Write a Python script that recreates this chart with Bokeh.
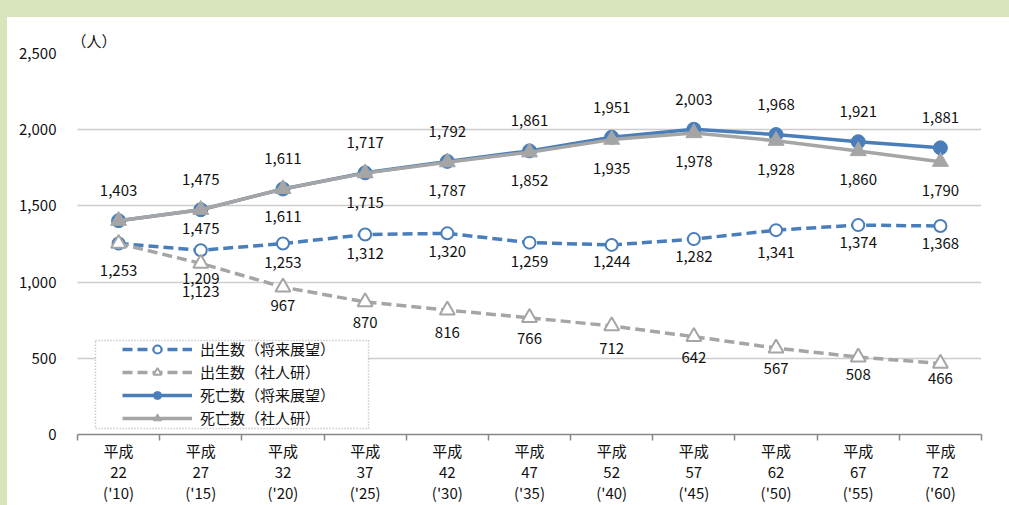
from bokeh.plotting import figure
from bokeh.models import (Range1d, LinearAxis, FixedTicker, NumeralTickFormatter, Legend,
                          LegendItem, Title, BoxAnnotation, ColumnDataSource)
from bokeh.core.properties import value
from bokeh.embed import file_html
from bokeh.resources import INLINE

# ---------------- data ----------------
era = "平成"
heisei_years = [22, 27, 32, 37, 42, 47, 52, 57, 62, 67, 72]
western_years = ["'10", "'15", "'20", "'25", "'30", "'35", "'40", "'45", "'50", "'55", "'60"]
births_future = [1253, 1209, 1253, 1312, 1320, 1259, 1244, 1282, 1341, 1374, 1368]
births_ipss = [1253, 1123, 967, 870, 816, 766, 712, 642, 567, 508, 466]
deaths_future = [1403, 1475, 1611, 1717, 1792, 1861, 1951, 2003, 1968, 1921, 1881]
deaths_ipss = [1403, 1475, 1611, 1715, 1787, 1852, 1935, 1978, 1928, 1860, 1790]
y_ticks = [0, 500, 1000, 1500, 2000, 2500]
series_names = ["出生数（将来展望）", "出生数（社人研）", "死亡数（将来展望）", "死亡数（社人研）"]
unit_label = "（人）"

# ---------------- layout / style ----------------
FONT_NAME = "Noto Sans CJK JP"
FONT = value(FONT_NAME)
BLUE = "#4a7ebb"
GRAY = "#a5a5a5"
TXT = "#111111"
FS = "15px"

cats = [f"{era}\n{h}\n({w})" for h, w in zip(heisei_years, western_years)]
n = len(cats)
xs = [i + 0.5 for i in range(n)]  # category centres

# label pixel offsets (positive = down) and visibility
off_bf = [27, 28, 19, 19, 18, 19, 17, 17, 22, 17, 17]
off_bi = [0, 28, 18, 21, 22, 21, 23, 21, 20, 17, 15]
off_df = [-30] * n
off_di = [0, 19, 28, 29, 28, 28, 29, 28, 29, 28, 29]
show_bi = [False] + [True] * (n - 1)
show_di = [False] + [True] * (n - 1)

p = figure(x_range=Range1d(0, n), y_range=Range1d(0, 2500),
           width=1001, height=488,
           frame_width=904, frame_height=381,
           min_border_left=69, min_border_right=28, min_border_top=36, min_border_bottom=71,
           x_axis_location=None, output_backend="svg", toolbar_location=None)
p.background_fill_color = "white"
p.border_fill_color = "white"
p.outline_line_color = None

# unit label as left-aligned title
p.title = Title(text=unit_label, align="left", text_font=FONT_NAME, text_font_size="15px",
                text_font_style="normal", text_color=TXT, standoff=6, offset=-6)

# y axis
yax = p.yaxis[0]
yax.ticker = FixedTicker(ticks=y_ticks)
yax.formatter = NumeralTickFormatter(format="0,0")
yax.axis_line_color = None
yax.major_tick_line_color = None
yax.minor_tick_line_color = None
yax.major_label_standoff = 15
yax.major_label_text_font = FONT_NAME
yax.major_label_text_font_size = FS
yax.major_label_text_color = TXT

p.xgrid.visible = False
p.ygrid.ticker = FixedTicker(ticks=y_ticks[1:])
p.ygrid.grid_line_color = "#9a9a9a"
p.ygrid.grid_line_width = 1.5
p.ygrid.grid_line_dash = "1 1"

# x axes: boundary ticks + category labels
tick_axis = LinearAxis(ticker=FixedTicker(ticks=list(range(n + 1))),
                       axis_line_color="#868686", axis_line_width=1.5,
                       major_tick_line_color="#868686", major_tick_line_width=1.5,
                       major_tick_in=0, major_tick_out=6, minor_tick_line_color=None,
                       major_label_text_font_size="0px", major_label_standoff=0,
                       major_label_overrides={i: "" for i in range(n + 1)})
label_axis = LinearAxis(ticker=FixedTicker(ticks=xs),
                        major_label_overrides={x: c for x, c in zip(xs, cats)},
                        axis_line_color=None, major_tick_line_color=None,
                        minor_tick_line_color=None,
                        major_label_standoff=-7, major_label_text_font=FONT_NAME,
                        major_label_text_font_size=FS, major_label_text_color=TXT,
                        major_label_text_line_height=1.0)
p.add_layout(tick_axis, "below")
p.add_layout(label_axis, "below")

# series
r_bf_line = p.line(xs, births_future, line_color=BLUE, line_width=3.5, line_dash="10 5")
r_bf_pt = p.scatter(xs, births_future, marker="circle", size=12, line_color=BLUE,
                    line_width=2, fill_color="white")
r_bi_line = p.line(xs, births_ipss, line_color=GRAY, line_width=3.5, line_dash="10 5")
r_bi_pt = p.scatter(xs, births_ipss, marker="triangle", size=15, line_color=GRAY,
                    line_width=2, fill_color="white")
r_df_line = p.line(xs, deaths_future, line_color=BLUE, line_width=3.5)
r_df_pt = p.scatter(xs, deaths_future, marker="circle", size=14, line_color=BLUE,
                    fill_color=BLUE)
r_di_line = p.line(xs, deaths_ipss, line_color=GRAY, line_width=3.5)
r_di_pt = p.scatter(xs, deaths_ipss, marker="triangle", size=16, line_color=GRAY,
                    fill_color=GRAY)

def add_labels(vals, offs, show):
    lx, ly, lt, lo = [], [], [], []
    for x, v, o, s in zip(xs, vals, offs, show):
        if s:
            lx.append(x); ly.append(v); lt.append(f"{v:,}"); lo.append(o)
    src = ColumnDataSource(dict(x=lx, y=ly, t=lt, o=lo))
    p.text(x="x", y="y", text="t", y_offset="o", source=src, text_align="center",
           text_baseline="middle", text_font=FONT, text_font_size=FS, text_color=TXT)

add_labels(births_future, off_bf, [True] * n)
add_labels(births_ipss, off_bi, show_bi)
add_labels(deaths_future, off_df, [True] * n)
add_labels(deaths_ipss, off_di, show_di)

# legend frame
p.add_layout(BoxAnnotation(left=0.219, right=3.541, top=617, bottom=39,
                           fill_color="white", fill_alpha=1, line_color="black",
                           line_width=1.5, line_dash="1 2", level="annotation"))
legend = Legend(items=[
    LegendItem(label=series_names[0], renderers=[r_bf_line, r_bf_pt]),
    LegendItem(label=series_names[1], renderers=[r_bi_line, r_bi_pt]),
    LegendItem(label=series_names[2], renderers=[r_df_line, r_df_pt]),
    LegendItem(label=series_names[3], renderers=[r_di_line, r_di_pt]),
], location=(45, 6), border_line_color=None, background_fill_alpha=0, padding=0,
    margin=0, spacing=2, glyph_width=70, glyph_height=20, label_standoff=8,
    label_text_font=FONT_NAME, label_text_font_size=FS, label_text_color=TXT)
p.add_layout(legend)

html = file_html(p, INLINE)
html = html.replace("</head>",
                    "<style>html{background:"
                    "linear-gradient(#d8e4bc,#d8e4bc) 0 0/100% 17px no-repeat,"
                    "linear-gradient(#d8e4bc,#d8e4bc) 0 0/7px 100% no-repeat,#ffffff;"
                    "overflow:hidden;}"
                    "body{background:transparent;overflow:hidden;margin:17px 0 0 8px;}"
                    "</style></head>", 1)
open("out.html", "w").write(html)
